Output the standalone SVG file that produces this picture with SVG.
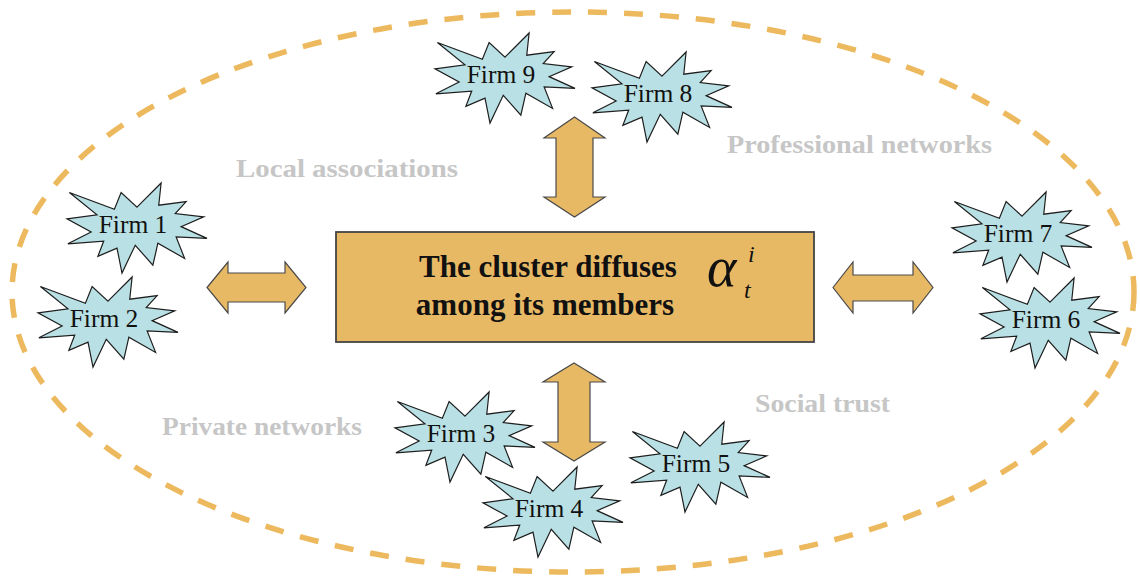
<svg xmlns="http://www.w3.org/2000/svg" xmlns:xlink="http://www.w3.org/1999/xlink" width="1140" height="578" viewBox="0 0 1140 578">
<style>
.burst{fill:#B9E0E4;stroke:#1e1e1e;stroke-width:1.2;stroke-linejoin:miter}
.firm{font-family:"Liberation Serif",serif;font-size:25.5px;fill:#111;text-anchor:middle}
.arrow{fill:#E8B965;stroke:#4a4a4a;stroke-width:1.2}
.lbl{font-family:"Liberation Serif",serif;font-weight:bold;font-size:26px;fill:#C6C6C6}
.main{font-family:"Liberation Serif",serif;font-weight:bold;font-size:31px;fill:#111;text-anchor:middle}
.math{font-family:"Liberation Serif",serif;font-style:italic;fill:#111}
</style>
<defs>
<polygon id="burst" class="burst" points="70,24.17 94.12,0 91.75,22.19 119.13,18.57 108.25,30.48 136.74,33.9 114.12,43.65 140,55.38 109.13,53.93 117.61,75.4 90.87,60.24 85.86,82.24 68.26,62.23 55,90 50,65.11 30.87,73.4 36.73,58.07 0.88,60.78 24.12,49.06 0,35.9 29.99,31.74 2.4,9.56 47.39,26.33 54.13,9.56"/>
</defs>
<rect width="1140" height="578" fill="#fff"/>
<ellipse id="cluster-boundary" cx="573" cy="292" rx="561" ry="280" fill="none" stroke="#EDB95E" stroke-width="5.5" stroke-dasharray="19 17"/>
<g id="labels">
<text class="lbl" x="236" y="177" textLength="222" lengthAdjust="spacingAndGlyphs">Local associations</text>
<text class="lbl" x="727" y="153" textLength="265" lengthAdjust="spacingAndGlyphs">Professional networks</text>
<text class="lbl" x="162" y="435" textLength="200" lengthAdjust="spacingAndGlyphs">Private networks</text>
<text class="lbl" x="755" y="412" textLength="135" lengthAdjust="spacingAndGlyphs">Social trust</text>
</g>
<g id="connectors">
<polygon class="arrow" points="207,287.5 228,262 228,273 285,273 285,262 306,287.5 285,313 285,302 228,302 228,313"/>
<polygon class="arrow" points="833,287.5 853,262 853,275 913,275 913,262 933,287.5 913,313 913,301 853,301 853,313"/>
<polygon class="arrow" points="574.5,117 605,138 593,138 593,197 605,197 574.5,217 544,197 556,197 556,138 544,138"/>
<polygon class="arrow" points="574,363 605,382 590,382 590,442 605,442 574,461 543,442 558,442 558,382 543,382"/>
</g>
<g id="cluster">
<rect x="336" y="232" width="478" height="110" fill="#E8B965" stroke="#444" stroke-width="1.8"/>
<text class="main" x="548" y="277">The cluster diffuses</text>
<text class="main" x="545" y="315">among its members</text>
<text class="math" x="707" y="286" font-size="56">α</text>
<text class="math" x="748" y="262" font-size="24">i</text>
<text class="math" x="744" y="298" font-size="24">t</text>
</g>
<g id="firm1"><use xlink:href="#burst" x="67" y="183"/><text class="firm" x="133" y="233">Firm 1</text></g>
<g id="firm2"><use xlink:href="#burst" x="38" y="277"/><text class="firm" x="104" y="327">Firm 2</text></g>
<g id="firm9"><use xlink:href="#burst" x="435" y="33"/><text class="firm" x="501" y="83">Firm 9</text></g>
<g id="firm8"><use xlink:href="#burst" x="592" y="52"/><text class="firm" x="658" y="102">Firm 8</text></g>
<g id="firm3"><use xlink:href="#burst" x="395" y="392"/><text class="firm" x="461" y="442">Firm 3</text></g>
<g id="firm4"><use xlink:href="#burst" x="483" y="467"/><text class="firm" x="549" y="517">Firm 4</text></g>
<g id="firm5"><use xlink:href="#burst" x="630" y="422"/><text class="firm" x="696" y="472">Firm 5</text></g>
<g id="firm7"><use xlink:href="#burst" x="952" y="192"/><text class="firm" x="1018" y="242">Firm 7</text></g>
<g id="firm6"><use xlink:href="#burst" x="980" y="278"/><text class="firm" x="1046" y="328">Firm 6</text></g>
</svg>
